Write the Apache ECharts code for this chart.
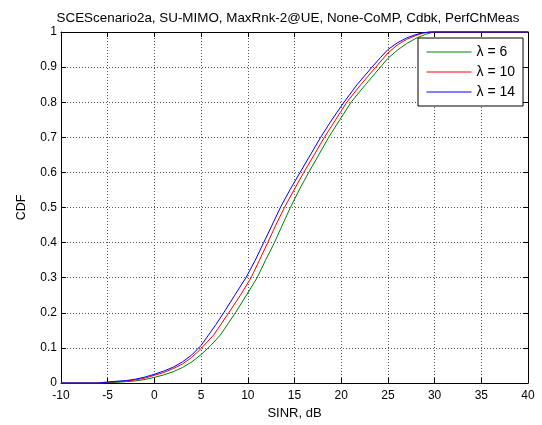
<!DOCTYPE html>
<html><head><meta charset="utf-8">
<script src="https://cdn.jsdelivr.net/npm/echarts@6/dist/echarts.min.js"></script>
<style>html,body{margin:0;padding:0;background:#fff}#c{width:542px;height:425px}</style>
</head><body><div id="c"></div>
<script>
const titleText = 'SCEScenario2a, SU-MIMO, MaxRnk-2@UE, None-CoMP, Cdbk, PerfChMeas';
const xName = 'SINR, dB';
const yName = 'CDF';
const seriesNames = ['λ = 6', 'λ = 10', 'λ = 14'];

const g6x = [-10, -6, -5, -4, -3, -2, -1, 0, 1, 2, 3, 4, 5, 6, 7.07, 8.67, 9.85, 11.0, 11.9, 12.85, 13.7, 14.56, 15.5, 16.52, 17.6, 18.66, 19.85, 21.06, 22.6, 24.2, 25, 26, 27, 28, 29, 29.9, 40];
const g6y = [0, 0, 0.001, 0.002, 0.004, 0.006, 0.01, 0.016, 0.023, 0.032, 0.044, 0.06, 0.081, 0.106, 0.137, 0.2, 0.25, 0.3, 0.35, 0.4, 0.45, 0.5, 0.55, 0.6, 0.65, 0.7, 0.75, 0.8, 0.85, 0.9, 0.925, 0.948, 0.967, 0.982, 0.993, 1, 1];

const r10x = [-10, -6, -5, -4, -3, -2, -1, 0, 1, 2, 3, 4, 5, 6.35, 7.96, 9.2, 10.35, 11.25, 12.13, 13.0, 13.92, 14.95, 15.99, 17.1, 18.2, 19.4, 20.6, 22.1, 23.7, 25, 26, 27, 28, 28.8, 29.6, 40];
const r10y = [0, 0, 0.002, 0.004, 0.006, 0.009, 0.014, 0.022, 0.03, 0.041, 0.054, 0.073, 0.098, 0.137, 0.2, 0.25, 0.3, 0.35, 0.4, 0.45, 0.5, 0.55, 0.6, 0.65, 0.7, 0.75, 0.8, 0.85, 0.9, 0.94, 0.963, 0.979, 0.99, 0.997, 1, 1];

const b14x = [-10, -6, -5, -4, -3, -2, -1, 0, 1, 2, 3, 4, 5, 5.8, 6.6, 7.42, 8.6, 9.8, 10.8, 11.7, 12.6, 13.49, 14.5, 15.6, 16.7, 17.8, 19.0, 20.3, 21.7, 23.3, 24.2, 25, 26, 27, 27.8, 28.6, 29.4, 40];
const b14y = [0, 0, 0.003, 0.005, 0.007, 0.011, 0.017, 0.025, 0.034, 0.045, 0.06, 0.08, 0.107, 0.137, 0.167, 0.2, 0.25, 0.3, 0.35, 0.4, 0.45, 0.5, 0.55, 0.6, 0.65, 0.7, 0.75, 0.8, 0.85, 0.9, 0.927, 0.95, 0.969, 0.983, 0.991, 0.997, 1, 1];

const pair = (xs, ys) => xs.map((x, i) => [x, ys[i]]);
const FONT = "'Liberation Sans', Arial, sans-serif";
const chart = echarts.init(document.getElementById('c'), null, {renderer: 'canvas'});

const axisCommon = {
  axisLine: {show: true, onZero: false, lineStyle: {color: '#000', width: 1}},
  axisTick: {show: true, inside: true, length: 5, lineStyle: {color: '#000'}},
};
const gridStyle = {show: true, lineStyle: {color: '#555', type: [1, 2], width: 1}};

chart.setOption({
  animation: false,
  backgroundColor: '#fff',
  title: {
    text: titleText, left: 283, top: 7, textAlign: 'center',
    textStyle: {fontFamily: FONT, fontSize: 13.4, fontWeight: 'normal', color: '#000'}
  },
  grid: {left: 61, right: 14, top: 32, bottom: 36, containLabel: false},
  legend: {
    data: seriesNames, orient: 'vertical', left: 418, top: 38,
    itemWidth: 45, itemHeight: 14, itemGap: 6,
    padding: [7, 8, 7, 8],
    backgroundColor: '#fff', borderColor: '#000', borderWidth: 1,
    itemStyle: {opacity: 0},
    lineStyle: {width: 1},
    textStyle: {fontFamily: FONT, fontSize: 14, color: '#000'}
  },
  xAxis: [
    Object.assign({
      type: 'value', min: -10, max: 40, interval: 5, position: 'bottom',
      name: xName, nameLocation: 'middle', nameGap: 24,
      nameTextStyle: {fontFamily: FONT, fontSize: 13, color: '#000'},
      axisLabel: {fontFamily: FONT, fontSize: 12, color: '#000', margin: 7},
      splitLine: gridStyle
    }, axisCommon),
    Object.assign({
      type: 'value', min: -10, max: 40, interval: 5, position: 'top',
      axisLabel: {show: false}, splitLine: {show: false}
    }, axisCommon)
  ],
  yAxis: [
    Object.assign({
      type: 'value', min: 0, max: 1, interval: 0.1, position: 'left',
      name: yName, nameLocation: 'middle', nameGap: 33, nameRotate: 90,
      nameTextStyle: {fontFamily: FONT, fontSize: 12.5, color: '#000'},
      axisLabel: {fontFamily: FONT, fontSize: 12, color: '#000', margin: 4,
        formatter: v => String(Math.round(v * 10) / 10)},
      splitLine: gridStyle
    }, axisCommon),
    Object.assign({
      type: 'value', min: 0, max: 1, interval: 0.1, position: 'right',
      axisLabel: {show: false}, splitLine: {show: false}
    }, axisCommon)
  ],
  series: [
    {name: seriesNames[0], type: 'line', data: pair(g6x, g6y), symbol: 'none', color: '#008000', lineStyle: {width: 1}, clip: false},
    {name: seriesNames[1], type: 'line', data: pair(r10x, r10y), symbol: 'none', color: '#ff0000', lineStyle: {width: 1}, clip: false},
    {name: seriesNames[2], type: 'line', data: pair(b14x, b14y), symbol: 'none', color: '#0000ff', lineStyle: {width: 1}, clip: false}
  ]
});
</script></body></html>
